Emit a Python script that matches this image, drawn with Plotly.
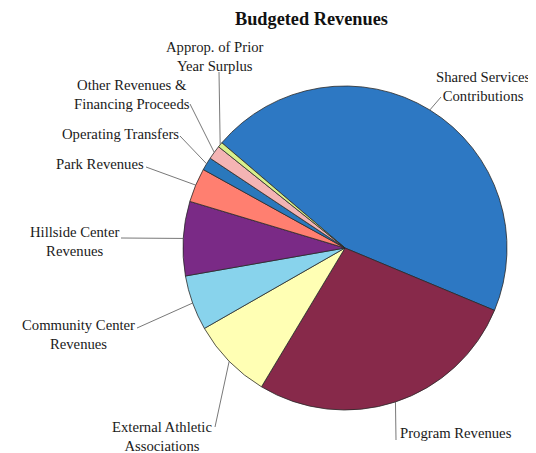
import math
import plotly.graph_objects as go

# ---- data (shares of budgeted revenues, %) ----
categories = [
    "Shared Services<br>Contributions",
    "Program Revenues",
    "External Athletic<br>Associations",
    "Community Center<br>Revenues",
    "Hillside Center<br>Revenues",
    "Park Revenues",
    "Operating Transfers",
    "Other Revenues &<br>Financing Proceeds",
    "Approp. of Prior<br>Year Surplus",
]
values = [45.0, 27.3, 8.1, 5.5, 7.4, 3.4, 1.3, 1.4, 0.5]
colors = ["#2D78C3", "#87294A", "#FFFFB4", "#88D3EC", "#7A2A86",
          "#FF7F70", "#2A78BC", "#F4B4B4", "#D8F08C"]

# ---- layout / style ----
WIN_W, WIN_H = 536, 453
OFF = 8                              # default page body margin
W, H = WIN_W - OFF, WIN_H - OFF      # figure size
CX, CY, R = 345, 248, 162            # pie centre and radius in window pixels
ROTATION = 310.5                     # start angle of first slice (clockwise from 12 o'clock)

# label text centre (px) and leader-line outer end (px), per category (window pixels)
label_pos = [(483, 86), (456, 433), (162, 436), (78, 334), (74, 241),
             (100, 164), (120, 134), (132, 94), (215, 57)]
leader_end = [(441, 97), (396, 440), (215, 427), (137, 328), (121, 238),
              (146, 167), (180, 136), (190, 104), (219, 72)]

def px(x):
    return (x - OFF) / W

def py(y):
    return 1 - (y - OFF) / H

fig = go.Figure(go.Pie(
    labels=categories,
    values=values,
    sort=False,
    direction="clockwise",
    rotation=ROTATION,
    marker=dict(colors=colors, line=dict(color="#2a2a2a", width=0.8)),
    textinfo="none",
    hoverinfo="label+percent",
    showlegend=False,
    domain=dict(x=[px(CX - R), px(CX + R)], y=[py(CY + R), py(CY - R)]),
))

# leader lines: from mid-angle of each slice on the rim to the label
total = sum(values)
cum = 0.0
shapes = []
annotations = []
for i, v in enumerate(values):
    mid = ROTATION + (cum + v / 2) / total * 360.0
    cum += v
    th = math.radians(mid)
    ex = CX + R * math.sin(th)
    ey = CY - R * math.cos(th)
    lx, ly = leader_end[i]
    shapes.append(dict(type="line", xref="paper", yref="paper",
                       x0=px(ex), y0=py(ey), x1=px(lx), y1=py(ly),
                       line=dict(color="#555555", width=0.8)))
    tx, ty = label_pos[i]
    annotations.append(dict(text=categories[i], xref="paper", yref="paper",
                            x=px(tx), y=py(ty), xanchor="center", yanchor="middle",
                            showarrow=False, align="center",
                            font=dict(family="Liberation Serif", size=14.7, color="#1a1a1a")))

annotations.append(dict(text="<b>Budgeted Revenues</b>", xref="paper", yref="paper",
                        x=px(311), y=1, xanchor="center", yanchor="top",
                        showarrow=False, borderpad=0,
                        font=dict(family="Liberation Serif", size=18.3, color="#111111")))

fig.update_layout(
    width=W, height=H,
    margin=dict(l=0, r=0, t=0, b=0),
    paper_bgcolor="white", plot_bgcolor="white",
    shapes=shapes, annotations=annotations,
)

fig.write_html("out.html")
